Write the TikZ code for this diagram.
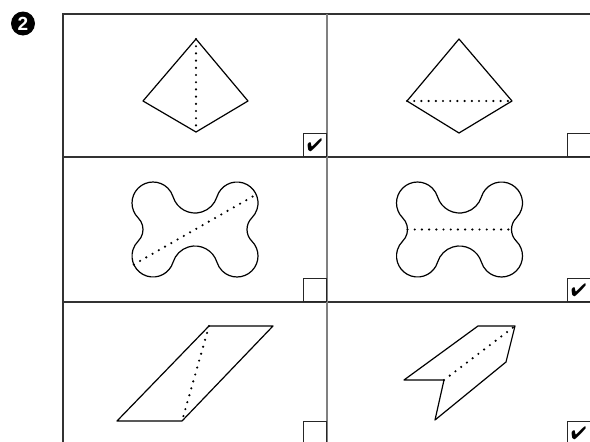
\documentclass[tikz,border=0pt]{standalone}
\usepackage{fontspec}
\usepackage{pifont}
\newfontfamily\badgefont{Liberation Sans}
\usetikzlibrary{calc}

\begin{document}
\begin{tikzpicture}[x=1pt,y=-1pt,line width=1pt,
    gridline/.style={black!80,line width=1.3pt},
    midline/.style={black!50,line width=1.3pt},
    outline/.style={black,line width=1.2pt,line join=round},
    dots/.style={black,line width=2.4pt,line cap=round,dash pattern=on 0pt off 7.2pt},
    chkbox/.style={draw=black!85,line width=1.3pt,minimum size=23pt,inner sep=0pt,anchor=south east,font=\fontsize{18}{18}\selectfont},
    badge/.style={circle,fill=black,text=white,minimum size=24pt,inner sep=0pt,font=\badgefont\bfseries\fontsize{19}{19}\selectfont}]
  \useasboundingbox (0,0) rectangle (590,442);
  \clip (0,0) rectangle (590,442);
  \node[badge] (num) at (23,23.5) {2};
  % frame
  \draw[gridline] (63,446) -- (63,14) -- (592,14);
  \draw[gridline] (63,157) -- (592,157);
  \draw[gridline] (63,302) -- (592,302);
  \draw[midline] (327,14) -- (327,446);
  % check boxes
  \node[chkbox] (b11) at (327,157) {\ding{52}};
  \node[chkbox] (b12) at (591,157) {};
  \node[chkbox] (b21) at (327,302) {};
  \node[chkbox] (b22) at (591,302) {\ding{52}};
  \node[chkbox] (b31) at (327,445) {};
  \node[chkbox] (b32) at (591,445) {\ding{52}};
  % row 1: kites
  \coordinate (k1t) at (196,39);  \coordinate (k1b) at (196,132);
  \coordinate (k1l) at (143,101); \coordinate (k1r) at (248,101);
  \draw[outline] (k1t) -- (k1r) -- (k1b) -- (k1l) -- cycle;
  \draw[dots] (k1t) -- (k1b);
  \coordinate (k2t) at (459,39);  \coordinate (k2b) at (459,133);
  \coordinate (k2l) at (407,101); \coordinate (k2r) at (512,101);
  \draw[outline] (k2t) -- (k2r) -- (k2b) -- (k2l) -- cycle;
  \draw[dots] (k2l) -- (k2r);
  % row 2: bones
  \foreach \cx in {195,459.5} {
    \draw[outline] (\cx+52,229.5)
      arc[start angle=180,end angle=134.9,radius=16.4]
      arc[start angle=-45.1,end angle=162.86,radius=21]
      arc[start angle=-17.14,end angle=-162.86,radius=22.95]
      arc[start angle=17.14,end angle=225.1,radius=21]
      arc[start angle=45.1,end angle=-45.1,radius=16.4]
      arc[start angle=134.9,end angle=342.86,radius=21]
      arc[start angle=162.86,end angle=17.14,radius=22.95]
      arc[start angle=197.14,end angle=405.1,radius=21]
      arc[start angle=225.1,end angle=180,radius=16.4] -- cycle;
  }
  \draw[dots] (195-61.2,229.5+35) -- (195+61.2,229.5-35);
  \draw[dots] (459.5-52,229.5) -- (459.5+52,229.5);
  % row 3: parallelogram and folded strip
  \coordinate (p1) at (117,421); \coordinate (p2) at (182,421);
  \coordinate (p3) at (273,326); \coordinate (p4) at (209,326);
  \draw[outline] (p1) -- (p2) -- (p3) -- (p4) -- cycle;
  \draw[dots] (p4) -- (p2);
  \coordinate (f1) at (404,380); \coordinate (f2) at (478,326);
  \coordinate (f3) at (515,326); \coordinate (f4) at (506,362);
  \coordinate (f5) at (435,420); \coordinate (f6) at (444,380);
  \draw[outline] (f1) -- (f2) -- (f3) -- (f4) -- (f5) -- (f6) -- cycle;
  \draw[dots] (f6) -- (f3);
\end{tikzpicture}
\end{document}
